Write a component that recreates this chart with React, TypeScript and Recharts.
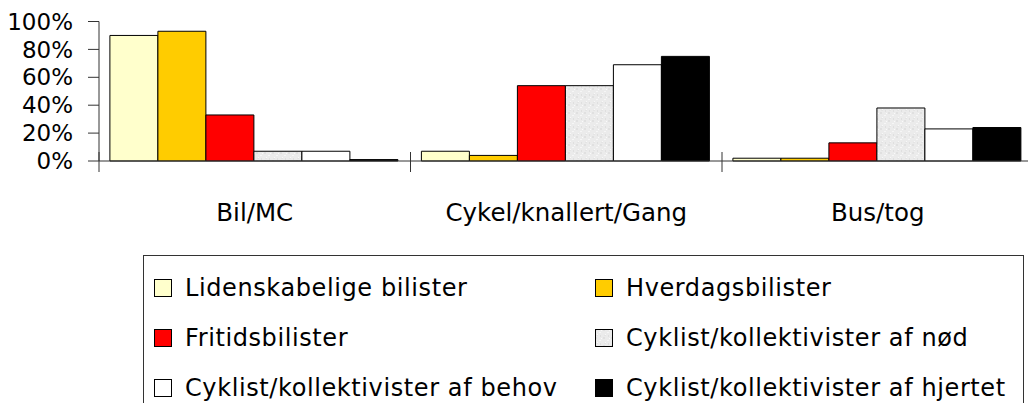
import React from 'react';
import { BarChart, Bar, XAxis, YAxis, Legend } from 'recharts';

const categories = ['Bil/MC', 'Cykel/knallert/Gang', 'Bus/tog'];
const lidenskabelige = [90, 7, 2];
const hverdags = [93, 4, 2];
const fritids = [33, 54, 13];
const nod = [7, 54, 38];
const behov = [7, 69, 23];
const hjertet = [1, 75, 24];
const yTicks = [0, 20, 40, 60, 80, 100];

const series = [
  { key: 's1', name: 'Lidenskabelige bilister', values: lidenskabelige, fill: '#FFFFCC' },
  { key: 's2', name: 'Hverdagsbilister', values: hverdags, fill: '#FFCC00' },
  { key: 's3', name: 'Fritidsbilister', values: fritids, fill: '#FF0000' },
  { key: 's4', name: 'Cyklist/kollektivister af nød', values: nod, fill: 'url(#nodPattern)' },
  { key: 's5', name: 'Cyklist/kollektivister af behov', values: behov, fill: '#FFFFFF' },
  { key: 's6', name: 'Cyklist/kollektivister af hjertet', values: hjertet, fill: '#000000' },
];

const data = categories.map((c, i) => {
  const row: Record<string, any> = { category: c };
  series.forEach((s) => {
    row[s.key] = s.values[i];
  });
  return row;
});

const FONT = '"DejaVu Sans", Verdana, sans-serif';
const AXIS = '#333333';
const CHART_W = 1040;
const CHART_H = 403;
const MARGIN = { top: 21.5, right: 6.5, left: 0, bottom: 0 };
const Y_W = 99;
const BAND = (CHART_W - MARGIN.left - MARGIN.right - Y_W) / categories.length;

const XTick = (props: any) => {
  const { x, y, payload, index } = props;
  const half = payload && typeof payload.offset === 'number' && payload.offset > 0 ? payload.offset : BAND / 2;
  return (
    <g>
      <line x1={x - half} x2={x - half} y1={y - 9} y2={y + 11} stroke={AXIS} strokeWidth={1} />
      {index === categories.length - 1 && (
        <line x1={x + half} x2={x + half} y1={y - 9} y2={y + 11} stroke={AXIS} strokeWidth={1} />
      )}
      <text x={x} y={y + 60} textAnchor="middle" fontSize={24.5} fill="#000" fontFamily={FONT}>
        {payload.value}
      </text>
    </g>
  );
};

const LegendBox = () => (
  <div
    style={{
      boxSizing: 'border-box',
      width: 881,
      height: 170,
      border: '1px solid #333',
      background: '#fff',
      paddingTop: 7,
      paddingLeft: 10,
      display: 'grid',
      gridTemplateColumns: '441px 428px',
      gridAutoRows: '50px',
      fontFamily: FONT,
      fontSize: 24,
      letterSpacing: '0.6px',
      color: '#000',
    }}
  >
    {series.map((s) => (
      <div key={s.key} style={{ display: 'flex', alignItems: 'center', whiteSpace: 'nowrap' }}>
        <svg width={18} height={18} style={{ flex: 'none', marginRight: 13 }}>
          <rect x={0.5} y={0.5} width={17} height={17} fill={s.fill} stroke="#000" strokeWidth={1} />
        </svg>
        <span>{s.name}</span>
      </div>
    ))}
  </div>
);

export default function App() {
  return (
    <div
      style={{
        position: 'absolute',
        left: 0,
        top: 0,
        width: 1028,
        height: 403,
        overflow: 'hidden',
        background: '#fff',
        fontFamily: FONT,
      }}
    >
      <BarChart width={CHART_W} height={CHART_H} data={data} margin={MARGIN} barCategoryGap="3.5%" barGap={0}>
        <defs>
          <pattern id="nodPattern" patternUnits="userSpaceOnUse" width="8" height="8">
            <rect width="8" height="8" fill="#ebebeb" />
            <rect x="0" y="0" width="2" height="2" fill="#e0e0e0" />
            <rect x="4" y="3" width="2" height="1" fill="#f6f6f6" />
            <rect x="5" y="6" width="1" height="2" fill="#dfdfdf" />
            <rect x="2" y="5" width="1" height="1" fill="#f8f8f8" />
            <rect x="6" y="1" width="1" height="1" fill="#fafafa" />
            <rect x="1" y="6" width="2" height="1" fill="#e4e4e4" />
          </pattern>
        </defs>
        <XAxis
          dataKey="category"
          height={CHART_H - 161}
          interval={0}
          tickSize={0}
          tickMargin={0}
          tickLine={false}
          axisLine={{ stroke: AXIS, strokeWidth: 1 }}
          tick={<XTick />}
        />
        <YAxis
          width={Y_W}
          domain={[0, 100]}
          ticks={yTicks}
          interval={0}
          tickFormatter={(v: number) => `${v}%`}
          tickSize={11}
          tickMargin={15}
          axisLine={{ stroke: AXIS, strokeWidth: 1 }}
          tickLine={{ stroke: AXIS, strokeWidth: 1 }}
          tick={{ fill: '#000', fontSize: 23, fontFamily: FONT }}
        />
        {series.map((s) => (
          <Bar
            key={s.key}
            dataKey={s.key}
            name={s.name}
            fill={s.fill}
            stroke="#000"
            strokeWidth={1}
            isAnimationActive={false}
          />
        ))}
        <Legend
          layout="vertical"
          align="center"
          verticalAlign="middle"
          wrapperStyle={{ left: 143, top: 255, width: 881, height: 170 }}
          content={() => <LegendBox />}
        />
      </BarChart>
    </div>
  );
}
